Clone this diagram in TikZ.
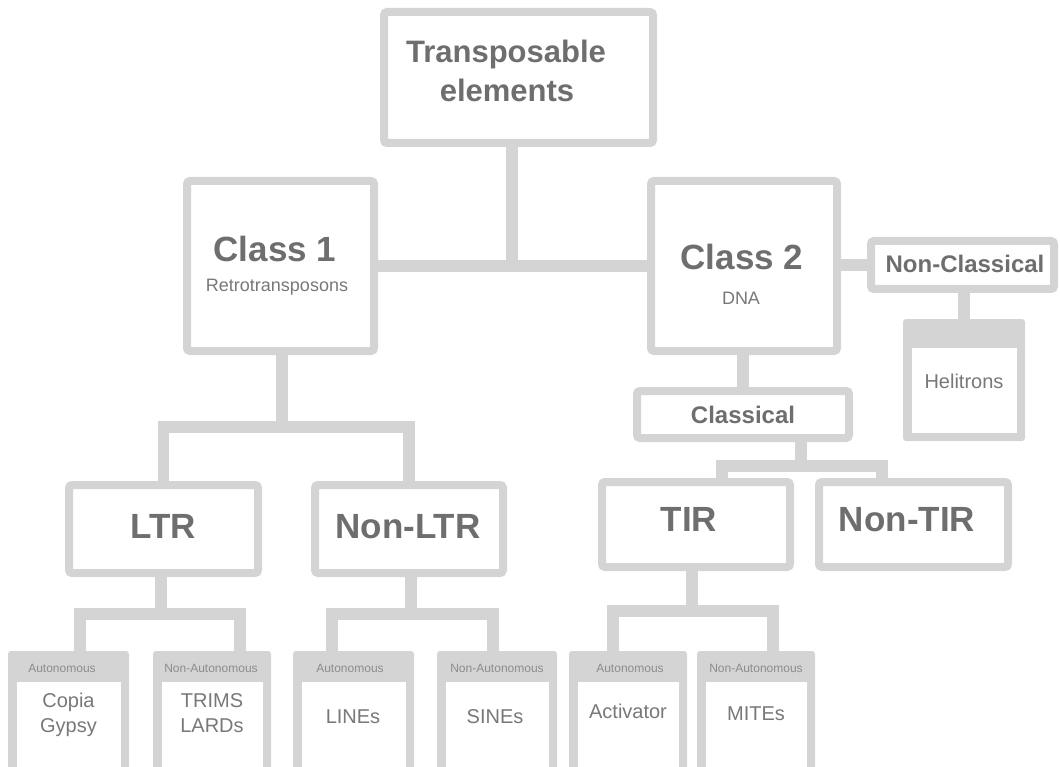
\documentclass[tikz,border=0pt]{standalone}
\usepackage{fontspec}
\setmainfont{Liberation Sans}
\usetikzlibrary{backgrounds}
\definecolor{bd}{HTML}{D4D4D4}
\definecolor{tx}{HTML}{6E6E6E}
\definecolor{tl}{HTML}{787878}
\definecolor{th}{HTML}{8C8C8C}
\begin{document}
\begin{tikzpicture}[x=1pt,y=-1pt,
  box/.style={draw=bd, line width=8pt, fill=white, rounded corners=3pt, inner sep=0pt},
  hdrbox/.style={fill=bd, rounded corners=3pt, inner sep=0pt},
  inbox/.style={fill=white, inner sep=0pt},
  conn/.style={draw=bd, line width=11.5pt},
  big/.style={anchor=base, inner sep=0pt, text=tx, font=\fontsize{35}{40}\selectfont\bfseries},
  mid/.style={anchor=base, inner sep=0pt, text=tx, font=\fontsize{24}{28}\selectfont\bfseries},
  sub/.style={anchor=base, inner sep=0pt, text=tl, font=\fontsize{18}{22}\selectfont},
  leaf/.style={anchor=base, inner sep=0pt, text=tl, font=\fontsize{20}{24}\selectfont},
  hdr/.style={anchor=base, inner sep=0pt, text=th, font=\fontsize{12}{14}\selectfont}]
\useasboundingbox (0,0) rectangle (1060,767);
\clip (0,0) rectangle (1060,767);

% main boxes
\node[box, minimum width=269pt, minimum height=131pt] (top) at (518.5,77.5) {};
\node[box, minimum width=187pt, minimum height=170pt] (c1) at (280.5,266) {};
\node[box, minimum width=186pt, minimum height=170pt] (c2) at (744,266) {};
\node[box, minimum width=183pt, minimum height=48pt] (ncl) at (962.5,265) {};
\node[box, minimum width=212pt, minimum height=47pt] (cl) at (743,414.5) {};
\node[box, minimum width=189pt, minimum height=88pt] (ltr) at (163.5,529) {};
\node[box, minimum width=188pt, minimum height=88pt] (nltr) at (409,529) {};
\node[box, minimum width=188pt, minimum height=85pt] (tir) at (696,524.5) {};
\node[box, minimum width=189pt, minimum height=85pt] (ntir) at (913.5,524.5) {};

% Helitrons box
\node[hdrbox, minimum width=122pt, minimum height=122pt] (hel) at (964,380) {};
\node[inbox, minimum width=105pt, minimum height=85pt] (heli) at (964.5,390.5) {};

% bottom boxes
\node[hdrbox, minimum width=121pt, minimum height=124pt] (b1) at (68.5,713) {};
\node[hdrbox, minimum width=118pt, minimum height=124pt] (b2) at (212,713) {};
\node[hdrbox, minimum width=121pt, minimum height=124pt] (b3) at (353.5,713) {};
\node[hdrbox, minimum width=120pt, minimum height=124pt] (b4) at (497,713) {};
\node[hdrbox, minimum width=118pt, minimum height=124pt] (b5) at (628,713) {};
\node[hdrbox, minimum width=118pt, minimum height=124pt] (b6) at (756,713) {};
\node[inbox, minimum width=104pt, minimum height=90pt] (i1) at (68.5,727) {};
\node[inbox, minimum width=101pt, minimum height=90pt] (i2) at (212,727) {};
\node[inbox, minimum width=104pt, minimum height=90pt] (i3) at (353.5,727) {};
\node[inbox, minimum width=103pt, minimum height=90pt] (i4) at (497,727) {};
\node[inbox, minimum width=101pt, minimum height=90pt] (i5) at (628,727) {};
\node[inbox, minimum width=101pt, minimum height=90pt] (i6) at (756,727) {};

% texts
\node[big, font=\fontsize{31}{36}\selectfont\bfseries] (t1) at (506,63) {Transposable};
\node[big, font=\fontsize{31}{36}\selectfont\bfseries] (t2) at (507,102) {elements};
\node[big] (c1t) at (275,262) {Class 1};
\node[sub] (c1s) at (277,292) {Retrotransposons};
\node[big] (c2t) at (742,270) {Class 2};
\node[sub] (c2s) at (741,305) {DNA};
\node[mid] (nclt) at (965,273) {Non-Classical};
\node[mid] (clt) at (743,423) {Classical};
\node[leaf] (helt) at (964,388) {Helitrons};
\node[big] (ltrt) at (163,538) {LTR};
\node[big] (nltrt) at (408,538) {Non-LTR};
\node[big] (tirt) at (689,531) {TIR};
\node[big] (ntirt) at (907,531) {Non-TIR};

\node[hdr] (h1) at (62,672) {Autonomous};
\node[hdr] (h2) at (211,672) {Non-Autonomous};
\node[hdr] (h3) at (350,672) {Autonomous};
\node[hdr] (h4) at (497,672) {Non-Autonomous};
\node[hdr] (h5) at (630,672) {Autonomous};
\node[hdr] (h6) at (756,672) {Non-Autonomous};

\node[leaf] (l1a) at (68.5,707) {Copia};
\node[leaf] (l1b) at (68.5,732) {Gypsy};
\node[leaf] (l2a) at (212,707) {TRIMS};
\node[leaf] (l2b) at (212,732) {LARDs};
\node[leaf] (l3) at (353,723) {LINEs};
\node[leaf] (l4) at (495,723) {SINEs};
\node[leaf] (l5) at (628,718) {Activator};
\node[leaf] (l6) at (756,720) {MITEs};

% junction coordinates
\coordinate (j1) at (512,266);
\coordinate (j2) at (282,427);
\coordinate (j3) at (161,614);
\coordinate (k1) at (80,614);
\coordinate (k2) at (240,614);
\coordinate (j4) at (411,614);
\coordinate (k3) at (332,614);
\coordinate (k4) at (493,614);
\coordinate (j5) at (801,466);
\coordinate (k5) at (722,466);
\coordinate (k6) at (882,466);
\coordinate (j6) at (692,611);
\coordinate (k7) at (613,611);
\coordinate (k8) at (773,611);

\begin{pgfonlayer}{background}
\draw[conn] (top.south -| j1) -- (j1);
\draw[conn] (c1.east) -- (c2.west);
\draw[conn] (ncl.west -| c2.east) -- (ncl.west);
\draw[conn] (ncl.south -| hel.north) -- (hel.north);
\draw[conn] (c2.south -| cl.north) -- (cl.north);
\draw[conn] (c1.south -| j2) -- (j2);
\draw[conn] (ltr.north) |- (j2) -| (nltr.north);
\draw[conn] (ltr.south -| j3) -- (j3);
\draw[conn] (b1.north -| k1) -- (k1) -- (k2) -- (b2.north -| k2);
\draw[conn] (nltr.south -| j4) -- (j4);
\draw[conn] (b3.north -| k3) -- (k3) -- (k4) -- (b4.north -| k4);
\draw[conn] (cl.south -| j5) -- (j5);
\draw[conn] (tir.north -| k5) -- (k5) -- (k6) -- (ntir.north -| k6);
\draw[conn] (tir.south -| j6) -- (j6);
\draw[conn] (b5.north -| k7) -- (k7) -- (k8) -- (b6.north -| k8);
\end{pgfonlayer}
\end{tikzpicture}
\end{document}
